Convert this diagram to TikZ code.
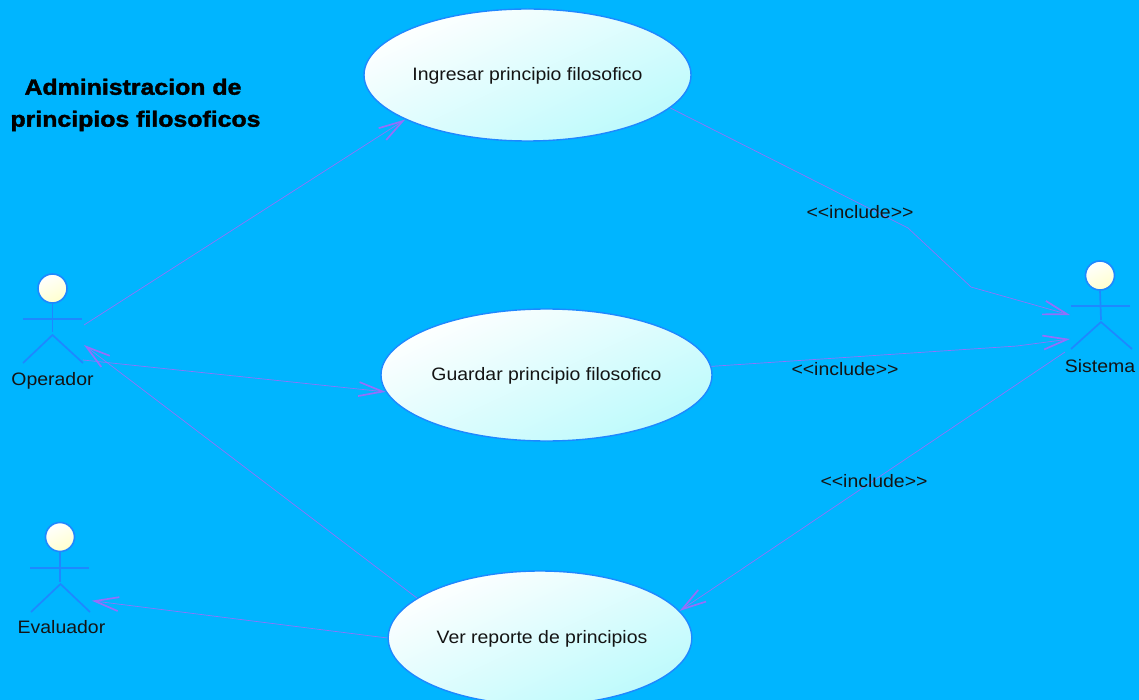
\documentclass[tikz,border=0pt]{standalone}
\usepackage{fontspec}
\usetikzlibrary{shapes.geometric,arrows.meta}
\newfontfamily\labfont[FakeStretch=1.08]{Liberation Sans}
\newfontfamily\ttlfont[FakeStretch=1.13,FakeBold=1.8]{Liberation Sans Bold}
\definecolor{bgblue}{RGB}{0,181,255}
\definecolor{edgeblue}{RGB}{30,136,255}
\definecolor{linkviolet}{RGB}{145,115,250}
\definecolor{barbviolet}{RGB}{150,110,250}
\definecolor{paleCyan}{RGB}{188,250,252}
\definecolor{paleYellow}{RGB}{255,255,205}
\tikzset{
  usecase/.style={ellipse,draw=edgeblue,line width=1.4pt,inner sep=0pt,shade,
    top color=white,bottom color=paleCyan,shading angle=25,
    font=\labfont\fontsize{18}{20}\selectfont,text=black!92},
  head/.style={circle,draw=edgeblue,line width=1.6pt,inner sep=0pt,minimum size=29pt,shade,
    top color=white,bottom color=paleYellow,shading angle=25},
  limb/.style={draw=edgeblue,line width=1.7pt},
  actorname/.style={font=\labfont\fontsize{18}{20}\selectfont,text=black!92,inner sep=0pt},
  incl/.style={font=\labfont\fontsize{18}{20}\selectfont,text=black!92,inner sep=0pt},
  link/.style={draw=linkviolet,line width=0.7pt,
    -{Straight Barb[length=24pt,width=14pt,line width=1.7pt,color=barbviolet]}},
  titletext/.style={font=\ttlfont\fontsize{22}{32}\selectfont,text=black,inner sep=0pt,align=center}
}
\begin{document}
\begin{tikzpicture}[x=1pt,y=-1pt]
\useasboundingbox (0,0) rectangle (1139,700);
\clip (0,0) rectangle (1139,700);
\fill[bgblue] (0,0) rectangle (1139,700);

\node[usecase,minimum width=327pt,minimum height=132pt] (uc1) at (527.5,75) {\raisebox{-5.5pt}[0pt][0pt]{Ingresar principio filosofico}};
\node[usecase,minimum width=331pt,minimum height=132pt] (uc2) at (546.5,375) {\raisebox{-5.5pt}[0pt][0pt]{Guardar principio filosofico}};
\node[usecase,minimum width=302pt,minimum height=134pt] (uc3) at (540,638) {\hspace*{4pt}\raisebox{-5.5pt}[0pt][0pt]{Ver reporte de principios}};

\node[titletext] (title) at (135.5,105) {\hspace*{-5pt}Administracion de\\principios filosoficos};

% Operador
\node[head] (opHead) at (52.5,288.5) {};
\coordinate (opHip) at (52.5,332);
\coordinate (opCrotch) at (52.5,335);
\coordinate (opHandL) at (23,319);
\coordinate (opHandR) at (82,319);
\coordinate (opFootL) at (23,363);
\coordinate (opFootR) at (83,363);
\draw[limb] (opHead.south) -- (opHip);
\draw[limb] (opHandL) -- (opHandR);
\draw[limb] (opFootL) -- (opCrotch) -- (opFootR);
\node[actorname] (opName) at (52.5,380.5) {Operador};

% Evaluador
\node[head] (evHead) at (60,537) {};
\coordinate (evHip) at (60,582);
\coordinate (evCrotch) at (60.5,584);
\coordinate (evHandL) at (30,568);
\coordinate (evHandR) at (89,568);
\coordinate (evFootL) at (31,612);
\coordinate (evFootR) at (90,612);
\draw[limb] (evHead.south) -- (evHip);
\draw[limb] (evHandL) -- (evHandR);
\draw[limb] (evFootL) -- (evCrotch) -- (evFootR);
\node[actorname] (evName) at (61.5,627.5) {Evaluador};

% Sistema
\node[head] (siHead) at (1100,275.5) {};
\coordinate (siHip) at (1101,320);
\coordinate (siCrotch) at (1101,322);
\coordinate (siHandL) at (1071,306);
\coordinate (siHandR) at (1130,306);
\coordinate (siFootL) at (1071,349);
\coordinate (siFootR) at (1132,349);
\draw[limb] (siHead.south) -- (siHip);
\draw[limb] (siHandL) -- (siHandR);
\draw[limb] (siFootL) -- (siCrotch) -- (siFootR);
\node[actorname] (siName) at (1100,366) {Sistema};

% connector ends at the actors
\coordinate (opA) at (84,325);
\coordinate (opB) at (83,360);
\coordinate (opC) at (84,345);
\coordinate (evA) at (91.7,600.7);
\coordinate (siA) at (1070,315);
\coordinate (siB) at (1070,339);
\coordinate (siC) at (1065,352);
\coordinate (bendA) at (908,228);
\coordinate (bendB) at (971,287);
\coordinate (bendC) at (1017,346);

\draw[link] (opA) -- (uc1.200.7);
\draw[link] (opB) -- (uc2.186.75);
\draw[link] (uc3.162.5) -- (opC);
\draw[link] (uc3.180) -- (evA);
\draw[link] (uc1.347.4) -- (bendA) -- (bendB) -- (siA);
\draw[link] (uc2.3.1) -- (bendC) -- (siB);
\draw[link] (siC) -- (uc3.11.5);

\node[incl] (inclA) at (860,212) {<{}<include>{}>};
\node[incl] (inclB) at (845,369) {<{}<include>{}>};
\node[incl] (inclC) at (874,481) {<{}<include>{}>};
\end{tikzpicture}
\end{document}
